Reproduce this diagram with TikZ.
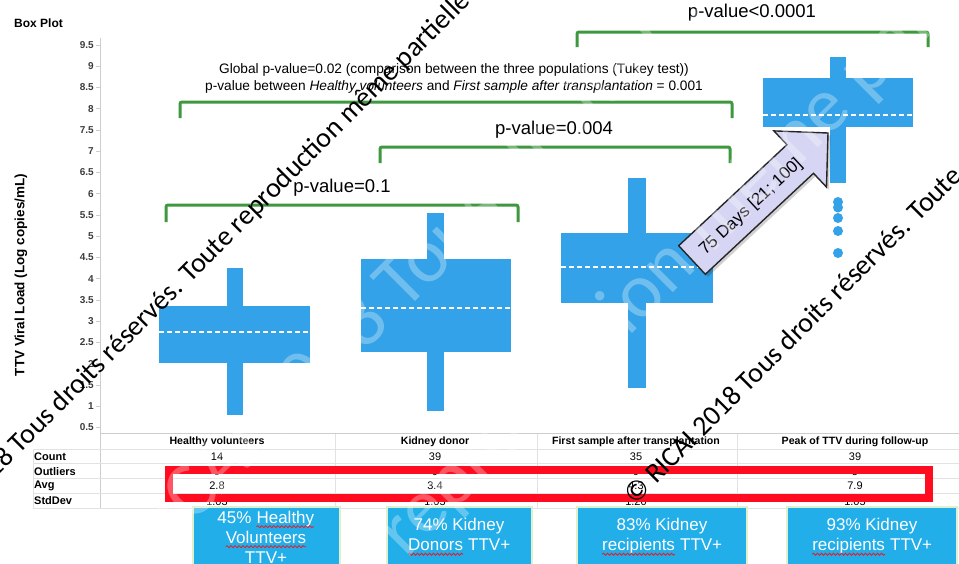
\documentclass[tikz,border=0pt]{standalone}
\usepackage{fontspec}
\setmainfont{Liberation Sans}
\newfontfamily\wmfont{Carlito}
\usetikzlibrary{calc,decorations.pathmorphing}
\definecolor{boxblue}{RGB}{51,162,232}
\definecolor{tagblue}{RGB}{33,174,233}
\definecolor{tagedge}{RGB}{222,240,205}
\definecolor{brgreen}{RGB}{62,152,62}
\definecolor{hired}{RGB}{255,12,32}
\definecolor{lav}{RGB}{214,214,244}
\definecolor{gridc}{RGB}{226,226,226}
\definecolor{axc}{RGB}{205,205,205}
\definecolor{ticktxt}{RGB}{60,60,60}
\definecolor{squig}{RGB}{230,30,40}
\newcommand\redsq[1]{\tikz[baseline=(sqw.base)]{\node[inner sep=0pt,outer sep=0pt] (sqw) {#1};
  \draw[squig,line width=0.8pt,decorate,decoration={snake,amplitude=1pt,segment length=4pt}]
    ([yshift=-3.5pt]sqw.base west) -- ([yshift=-3.5pt]sqw.base east);}}
\tikzset{
  bx/.style={fill=boxblue,draw=none},
  med/.style={draw=white,line width=1.3pt,dash pattern=on 5pt off 3pt},
  gbr/.style={draw=brgreen,line width=3pt,rounded corners=2pt},
  pv/.style={font=\fontsize{18.5}{22}\selectfont,inner sep=0pt},
  ticklab/.style={font=\bfseries\fontsize{10}{12}\selectfont,text=ticktxt,anchor=east,inner sep=0pt},
  grid/.style={draw=gridc,line width=0.8pt},
  hdr/.style={font=\bfseries\fontsize{10.6}{12}\selectfont,inner sep=0pt},
  rowlab/.style={font=\bfseries\fontsize{11}{12}\selectfont,anchor=west,inner sep=0pt},
  val/.style={font=\fontsize{11}{12}\selectfont,inner sep=0pt},
  tag/.style={fill=tagblue,draw=tagedge,line width=1.5pt},
  tagtxt/.style={text=white,align=center,font=\fontsize{17}{20}\selectfont,inner sep=0pt},
  wm/.style={font=\wmfont\fontsize{28}{30}\selectfont,inner sep=0pt,text=black,rotate=45,anchor=base west},
  wmfaint/.style={font=\wmfont\fontsize{78}{80}\selectfont,inner sep=0pt,text=white,text opacity=0.3,rotate=45,anchor=base west},
}
\begin{document}
\begin{tikzpicture}[x=1pt,y=-1pt]
\useasboundingbox (0,0) rectangle (959,563);
\clip (0,0) rectangle (959,563);
\fill[white] (0,0) rectangle (959,563);

% title and axis
\node[font=\bfseries\fontsize{12}{14}\selectfont,anchor=west,inner sep=0pt] (title) at (14,23) {Box Plot};
\node[font=\bfseries\fontsize{13.5}{15}\selectfont,rotate=90,inner sep=0pt] (ytitle) at (21,275) {TTV Viral Load (Log copies/mL)};
\draw[axc,line width=0.8pt] (100,38) -- (100,508);
\draw[axc,line width=0.8pt] (100,433.5) -- (959,433.5);
\foreach \v in {0.5,1,1.5,2,2.5,3,3.5,4,4.5,5,5.5,6,6.5,7,7.5,8,8.5,9,9.5}{
  \draw[axc,line width=0.8pt] (96,{45+(9.5-\v)*42.5}) -- (100,{45+(9.5-\v)*42.5});
  \node[ticklab] at (94,{45+(9.5-\v)*42.5}) {\v};
}

% brackets
\draw[gbr] (577,47) -- (577,32) -- (928,32) -- (928,47);
\node[pv] (p4) at (752,13) {p-value<0.0001};
\draw[gbr] (180,118) -- (180,102) -- (732,102) -- (732,118);
\node[align=center,font=\fontsize{13.7}{17}\selectfont,inner sep=0pt] (glob) at (454,78.5)
  {Global p-value=0.02 (comparison between the three populations (Tukey test))\\
   p-value between \textit{Healthy volunteers} and \textit{First sample after transplantation} = 0.001};
\node[pv] (p2) at (554,130) {p-value=0.004};
\draw[gbr] (380,163) -- (380,147) -- (730,147) -- (730,163);
\node[pv] (p1) at (342,188) {p-value=0.1};
\draw[gbr] (166,222) -- (166,205) -- (518,205) -- (518,222);

% box plots
\fill[bx] (227,268) rectangle (243,415);
\fill[bx] (159,306) rectangle (310,363);
\draw[med] (159,332) -- (310,332);
\fill[bx] (427,213) rectangle (444,411);
\fill[bx] (361,259) rectangle (511,352);
\draw[med] (361,308) -- (511,308);
\fill[bx] (628,178) rectangle (646,388);
\fill[bx] (561,233) rectangle (713,303);
\draw[med] (561,267) -- (713,267);
\fill[bx] (830,57) rectangle (846,183);
\fill[bx] (763,78) rectangle (913,127);
\draw[med] (763,115) -- (913,115);
\foreach \yy in {202,207.5,218,231,253}{\fill[boxblue] (838,\yy) circle (5);}

% arrow
\fill[black,opacity=0.18] ($(705.3,274.3)+(2.5,2.5)$) -- ++(108.2,-101) -- ++(13,13.8) -- ++(1.5,-54.1) -- ++(-54.1,-2.1) -- ++(13,13.8) -- ++(-108.2,101) -- cycle;
\draw[fill=lav,draw=black!85,line width=1.4pt,line join=miter]
  (705.3,274.3) -- (813.5,173.3) -- (826.5,187.1) -- (828,133) -- (773.9,130.9) -- (786.9,144.7) -- (678.7,245.7) -- cycle;
\node[rotate=43,font=\fontsize{17}{19}\selectfont,inner sep=0pt] (days) at (751,207) {75 Days [21; 100]};

% table
\foreach \yy in {449,463.5,478,493,508}{\draw[grid] (33,\yy) -- (959,\yy);}
\draw[grid] (33,449) -- (33,508);
\foreach \xx in {335,537,737}{\draw[grid] (\xx,434) -- (\xx,508);}
\node[hdr] (h1) at (217,442) {Healthy volunteers};
\node[hdr] (h2) at (435,442) {Kidney donor};
\node[hdr] (h3) at (636,442) {First sample after transplantation};
\node[hdr] (h4) at (855,442) {Peak of TTV during follow-up};
\node[rowlab] (r1) at (34,457) {Count};
\node[rowlab] (r2) at (34,471.5) {Outliers};
\node[rowlab] (r3) at (34,486) {Avg};
\node[rowlab] (r4) at (34,501) {StdDev};
\node[val] (c1) at (217,457) {14};
\node[val] (c2) at (435,457) {39};
\node[val] (c3) at (636,457) {35};
\node[val] (c4) at (855,457) {39};
\node[val] (o1) at (217,471.5) {0};
\node[val] (o2) at (435,471.5) {0};
\node[val] (o3) at (636,471.5) {0};
\node[val] (o4) at (855,471.5) {5};
\node[val] (a1) at (217,486) {2.8};
\node[val] (a2) at (435,486) {3.4};
\node[val] (a3) at (636,486) {4.3};
\node[val] (a4) at (855,486) {7.9};
\node[val] (s1) at (217,502) {1.03};
\node[val] (s2) at (435,502) {1.05};
\node[val] (s3) at (636,502) {1.20};
\node[val] (s4) at (855,502) {1.05};

% red frame
\draw[hired,line width=8pt] (169,469.7) rectangle (929,497.6);

% bottom tags
\draw[tag] (193,507) rectangle (340,575);
\draw[tag] (387,507) rectangle (532,575);
\draw[tag] (577,507) rectangle (747,575);
\draw[tag] (787,507) rectangle (957,575);
\node[tagtxt] (t1) at (266,537) {45\% \redsq{Healthy}\\ \redsq{Volunteers}\\ TTV+};
\node[tagtxt] (t2) at (459,537) {74\% Kidney\\ \redsq{Donors} TTV+};
\node[tagtxt] (t3) at (662,537) {83\% Kidney\\ \redsq{recipients} TTV+};
\node[tagtxt] (t4) at (872,537) {93\% Kidney\\ \redsq{recipients} TTV+};

% faint watermark
\node[wmfaint] (wf1) at (90,627) {© RICAI 2018 Tous droits réservés. Toute reproduction même partielle interdite};
\node[wmfaint] (wf2) at (-520,1486) {© RICAI 2018 Tous droits réservés. Toute reproduction même partielle interdite};

% watermark
\node[wm] (wm2) at (635,506) {© RICAI 2018 Tous droits réservés. Toute reproduction même partielle interdite};
\node[wm] (wm1) at (-93,567) {© RICAI 2018 Tous droits réservés. Toute reproduction même partielle interdite};
\end{tikzpicture}
\end{document}
